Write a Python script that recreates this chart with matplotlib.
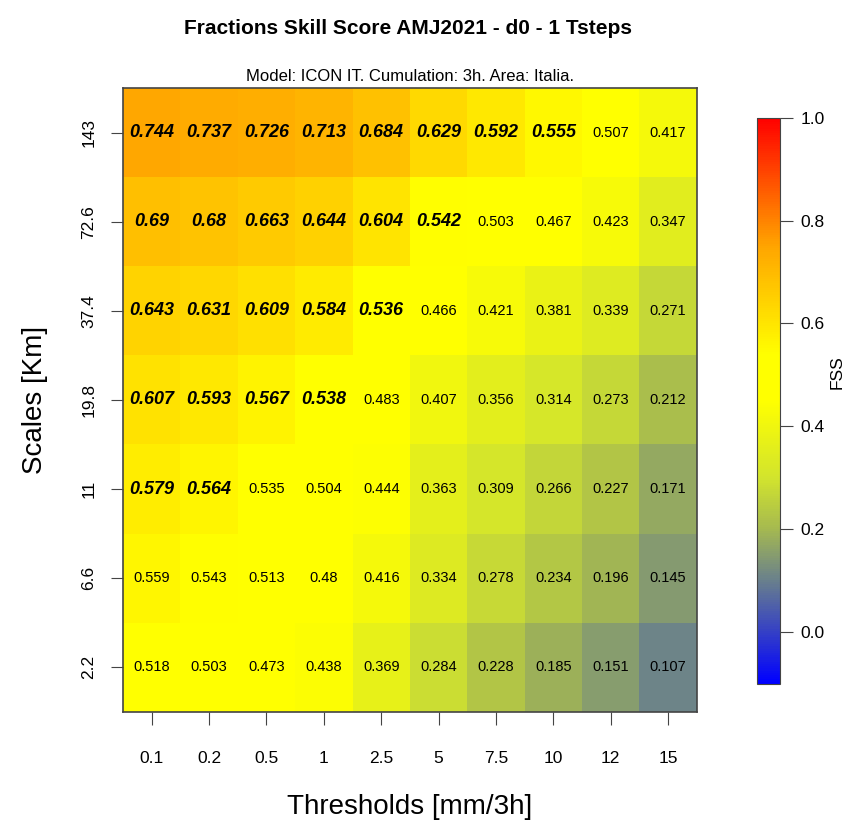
import matplotlib.pyplot as plt
import numpy as np
from matplotlib.colors import LinearSegmentedColormap

plt.rcParams['font.family'] = ['Liberation Sans', 'DejaVu Sans']

# valori FSS (righe: scale dal basso verso l'alto)
thresholds = ['0.1', '0.2', '0.5', '1', '2.5', '5', '7.5', '10', '12', '15']
scales = ['2.2', '6.6', '11', '19.8', '37.4', '72.6', '143']
fss = np.array([
    [0.518, 0.503, 0.473, 0.438, 0.369, 0.284, 0.228, 0.185, 0.151, 0.107],
    [0.559, 0.543, 0.513, 0.48, 0.416, 0.334, 0.278, 0.234, 0.196, 0.145],
    [0.579, 0.564, 0.535, 0.504, 0.444, 0.363, 0.309, 0.266, 0.227, 0.171],
    [0.607, 0.593, 0.567, 0.538, 0.483, 0.407, 0.356, 0.314, 0.273, 0.212],
    [0.643, 0.631, 0.609, 0.584, 0.536, 0.466, 0.421, 0.381, 0.339, 0.271],
    [0.69, 0.68, 0.663, 0.644, 0.604, 0.542, 0.503, 0.467, 0.423, 0.347],
    [0.744, 0.737, 0.726, 0.713, 0.684, 0.629, 0.592, 0.555, 0.507, 0.417],
])
# FSS "utile" per soglia (sopra -> grassetto)
fss_useful = [0.56, 0.55, 0.55, 0.52, 0.52, 0.52, 0.52, 0.52, 0.52, 0.52]

vmin, vmax = -0.1, 1.0
def pos(v):
    return (v - vmin) / (vmax - vmin)

cmap = LinearSegmentedColormap.from_list('fss', [
    (pos(-0.1), (0, 0, 1)),
    (pos(0.1), (105/255, 128/255, 140/255)),
    (pos(0.2), (165/255, 185/255, 80/255)),
    (pos(0.3), (210/255, 228/255, 45/255)),
    (pos(0.45), (1, 1, 0)),
    (pos(0.54), (1, 1, 0)),
    (pos(0.75), (1, 165/255, 0)),
    (pos(1.0), (1, 0, 0)),
])

fig = plt.figure(figsize=(8.54, 8.22), dpi=100)
ax = fig.add_axes([0.144, 0.134, 0.672, 0.759])
cax = fig.add_axes([0.886, 0.168, 0.027, 0.689])

nx, ny = len(thresholds), len(scales)
mesh = ax.pcolormesh(np.arange(nx + 1) - 0.5, np.arange(ny + 1) - 0.5, fss,
                     cmap=cmap, vmin=vmin, vmax=vmax, shading='flat')

for i in range(ny):
    for j in range(nx):
        v = fss[i, j]
        if v > fss_useful[j]:
            ax.text(j, i, f'{v:g}', ha='center', va='center', fontsize=13,
                    fontweight='bold', fontstyle='italic')
        else:
            ax.text(j, i, f'{v:g}', ha='center', va='center', fontsize=10.5)

ax.set_xlim(-0.5, nx - 0.5)
ax.set_ylim(-0.5, ny - 0.5)
ax.set_xticks(range(nx))
ax.set_xticklabels(thresholds, fontsize=12.5)
ax.set_yticks(range(ny))
ax.set_yticklabels(scales, fontsize=12.5, rotation=90, va='center')
ax.tick_params(axis='x', length=9, pad=19, color='#444444')
ax.tick_params(axis='y', length=9, pad=10, color='#444444')
for s in ax.spines.values():
    s.set_color('#444444')
    s.set_linewidth(1.2)

ax.set_xlabel('Thresholds [mm/3h]', fontsize=20, labelpad=20)
ax.set_ylabel('Scales [Km]', fontsize=20, labelpad=24)
ax.set_title('Model: ICON IT. Cumulation: 3h. Area: Italia.', fontsize=12, pad=5)
fig.text(0.478, 0.965, 'Fractions Skill Score AMJ2021 - d0 - 1 Tsteps',
         ha='center', va='center', fontsize=15, fontweight='bold')

cb = fig.colorbar(mesh, cax=cax)
cb.set_ticks([0.0, 0.2, 0.4, 0.6, 0.8, 1.0])
cb.set_ticklabels(['0.0', '0.2', '0.4', '0.6', '0.8', '1.0'])
cax.tick_params(labelsize=12.5, length=9, pad=6, color='#444444')
cb.outline.set_edgecolor('#444444')
cax.text(3.5, 0.55, 'FSS', transform=cax.transAxes, rotation=90,
         ha='center', va='center', fontsize=12.5)

plt.savefig('out.png')
